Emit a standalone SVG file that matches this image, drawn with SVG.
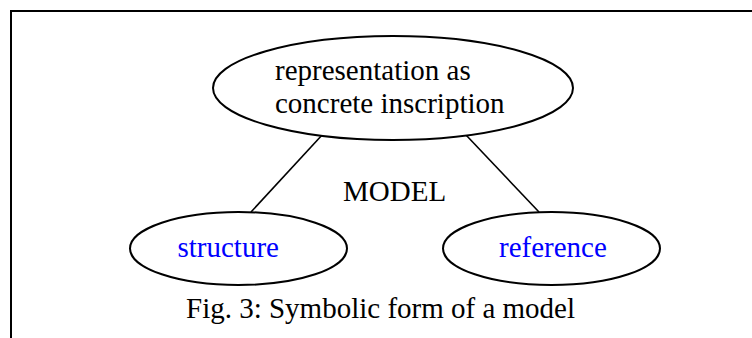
<svg xmlns="http://www.w3.org/2000/svg" width="752" height="338" viewBox="0 0 752 338">
  <style>
    .frame { fill: none; stroke: #000; stroke-width: 2; }
    .node { fill: #fff; stroke: #000; stroke-width: 2; }
    .edge { stroke: #000; stroke-width: 1.6; fill: none; }
    text { font-family: "Liberation Serif", "Times New Roman", serif; font-size: 29px; fill: #000; }
    .blue { fill: #0000ff; }
  </style>
  <rect width="752" height="338" fill="#fff"/>
  <!-- open frame: top and left edges only -->
  <path class="frame" d="M11 338 V11 H752"/>
  <g id="connectors">
    <line class="edge" x1="323" y1="134" x2="251" y2="212"/>
    <line class="edge" x1="466" y1="135" x2="539" y2="212"/>
  </g>
  <g id="representation">
    <ellipse class="node" cx="393" cy="88" rx="180" ry="52"/>
    <text x="275" y="80">representation as</text>
    <text x="275" y="113">concrete inscription</text>
  </g>
  <g id="structure">
    <ellipse class="node" cx="238.5" cy="248.5" rx="108.5" ry="36.5"/>
    <text class="blue" x="177.5" y="257">structure</text>
  </g>
  <g id="reference">
    <ellipse class="node" cx="551.5" cy="248.5" rx="108.5" ry="36.5"/>
    <text class="blue" x="499" y="257">reference</text>
  </g>
  <g id="model-label">
    <text x="343" y="201">MODEL</text>
  </g>
  <g id="caption">
    <text x="186" y="318">Fig. 3: Symbolic form of a model</text>
  </g>
</svg>
